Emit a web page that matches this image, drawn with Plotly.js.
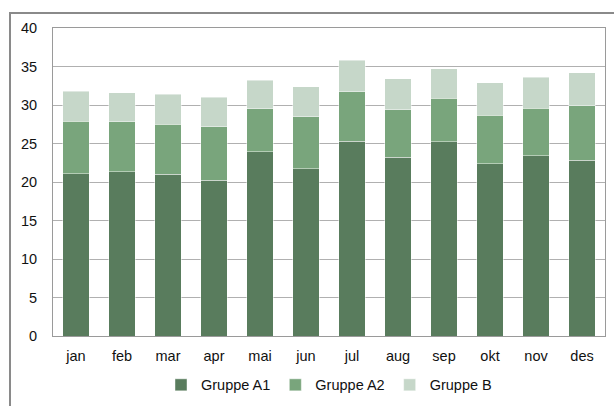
<!DOCTYPE html>
<html>
<head>
<meta charset="utf-8">
<script src="https://cdn.plot.ly/plotly-3.0.1.min.js"></script>
<style>
html,body{margin:0;padding:0;background:#fff;}
#wrap{position:relative;width:614px;height:406px;overflow:hidden;}
#chart{width:614px;height:406px;}
#frame{position:absolute;left:9px;top:12px;width:700px;height:500px;border-left:2px solid #8a8a8a;border-top:2px solid #8a8a8a;pointer-events:none;}
</style>
</head>
<body>
<div id="wrap">
<div id="chart"></div>
<div id="frame"></div>
</div>
<script>
const months = ["jan","feb","mar","apr","mai","jun","jul","aug","sep","okt","nov","des"];
const gruppeA1 = [21.1, 21.3, 21.0, 20.2, 23.9, 21.7, 25.3, 23.2, 25.2, 22.4, 23.4, 22.8];
const gruppeA2 = [6.8, 6.5, 6.5, 7.0, 5.6, 6.8, 6.4, 6.2, 5.7, 6.3, 6.2, 7.1];
const gruppeB  = [3.9, 3.8, 3.9, 3.8, 3.7, 3.9, 4.1, 4.0, 3.8, 4.2, 4.0, 4.3];
const seriesNames = ["Gruppe A1", "Gruppe A2", "Gruppe B"];
const colors = ["#597c5d", "#79a57c", "#c6d7c9"];

const series = [gruppeA1, gruppeA2, gruppeB];
const data = series.map((vals, i) => ({
  type: "bar",
  name: seriesNames[i],
  x: months,
  y: vals,
  marker: {color: colors[i], line: {color: "rgba(255,255,255,0.55)", width: 0.8}},
  hoverinfo: "x+y+name"
}));

const layout = {
  width: 614, height: 406,
  margin: {l: 53, r: 9, t: 28, b: 70, autoexpand: false},
  barmode: "stack",
  bargap: 0.43,
  paper_bgcolor: "rgba(0,0,0,0)",
  plot_bgcolor: "#fff",
  font: {family: "Liberation Sans, Arial, sans-serif", size: 14.5, color: "#111"},
  showlegend: true,
  legend: {orientation: "h", x: 0.5, xanchor: "center", yref: "container", y: 0.052, yanchor: "middle",
           font: {size: 14.5, color: "#111"}, itemwidth: 30, traceorder: "normal"},
  xaxis: {
    showgrid: false, showline: true, mirror: true, linecolor: "#9a9a9a", linewidth: 1,
    ticks: "", tickfont: {size: 14.5}, ticklabelstandoff: 7, automargin: false
  },
  yaxis: {
    range: [0, 40], dtick: 5, tick0: 0,
    showgrid: true, gridcolor: "#b0b0b0", gridwidth: 1,
    showline: true, mirror: true, linecolor: "#9a9a9a", linewidth: 1,
    zeroline: false, ticks: "", tickfont: {size: 14.5}, ticklabelstandoff: 12, automargin: false
  }
};

Plotly.newPlot("chart", data, layout, {displayModeBar: false, staticPlot: true});
</script>
</body>
</html>
